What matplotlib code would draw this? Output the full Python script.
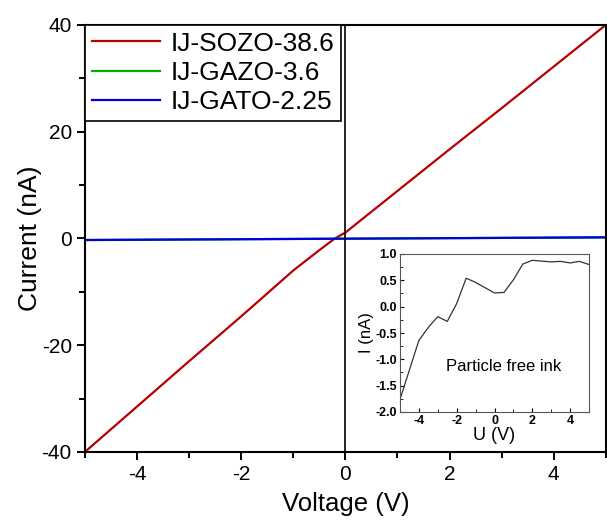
import matplotlib
matplotlib.use("Agg")
import matplotlib.pyplot as plt
from matplotlib.ticker import MultipleLocator

plt.rcParams["font.family"] = ["Liberation Sans", "DejaVu Sans"]
plt.rcParams["axes.unicode_minus"] = False

# main I-V curves
v_sozo = [-5, -4, -3, -2, -1.65, -1, -0.5, -0.2, 0, 1, 2, 3, 4, 5]
i_sozo = [-40, -31.5, -23, -14.6, -11.6, -6, -2.2, 0, 1.1, 8.9, 16.7, 24.4, 32.2, 40]
v_gazo = [-5, 0, 5]
i_gazo = [-0.3, -0.05, 0.2]
v_gato = [-5, 0, 5]
i_gato = [-0.3, -0.05, 0.2]

# inset: particle free ink
u_ink = [-5, -4, -3.45, -3, -2.5, -2, -1.5, -1.05, 0, 0.5, 1, 1.5, 2, 3, 3.5, 4, 4.5, 5]
i_ink = [-1.76, -0.64, -0.37, -0.19, -0.28, 0.06, 0.54, 0.47, 0.26, 0.27, 0.51, 0.81, 0.88, 0.85, 0.86, 0.83, 0.86, 0.80]

fig = plt.figure(figsize=(6.07, 5.2), dpi=100)
ax = fig.add_axes([0.140, 0.131, 0.858, 0.821])

ax.plot(v_sozo, i_sozo, color="#b80000", lw=1.6, label="IJ-SOZO-38.6")
ax.plot(v_gazo, i_gazo, color="#00b000", lw=1.6, label="IJ-GAZO-3.6")
ax.plot(v_gato, i_gato, color="#0000e0", lw=1.6, label="IJ-GATO-2.25")
ax.axvline(0, color="black", lw=1.2)

ax.set_xlim(-5, 5)
ax.set_ylim(-40, 40)
ax.xaxis.set_major_locator(MultipleLocator(2))
ax.xaxis.set_minor_locator(MultipleLocator(1))
ax.yaxis.set_major_locator(MultipleLocator(20))
ax.yaxis.set_minor_locator(MultipleLocator(10))
ax.tick_params(which="major", direction="out", length=6, width=1.4, labelsize=15)
ax.tick_params(which="minor", direction="out", length=4, width=1.4)
for s in ax.spines.values():
    s.set_linewidth(1.5)
ax.set_xlabel("Voltage (V)", fontsize=18.5, labelpad=6)
ax.set_ylabel("Current (nA)", fontsize=19, labelpad=0)

leg = ax.legend(loc="upper left", fontsize=19, frameon=True, fancybox=False,
                borderaxespad=0, handlelength=2.6, handletextpad=0.4,
                labelspacing=0.2, borderpad=0.25)
leg.get_frame().set_edgecolor("black")
leg.get_frame().set_linewidth(1.2)
leg.get_frame().set_alpha(1)

# inset
ins = fig.add_axes([400 / 607, 1 - 412 / 520, 189 / 607, 158 / 520])
ins.plot(u_ink, i_ink, color="#333333", lw=0.9)
ins.set_xlim(-5, 5)
ins.set_ylim(-2, 1)
ins.xaxis.set_major_locator(MultipleLocator(2))
ins.xaxis.set_minor_locator(MultipleLocator(1))
ins.yaxis.set_major_locator(MultipleLocator(0.5))
ins.yaxis.set_minor_locator(MultipleLocator(0.25))
ins.tick_params(which="major", direction="in", length=3, labelsize=9, pad=2)
ins.tick_params(which="minor", direction="in", length=2)
for lbl in ins.get_xticklabels() + ins.get_yticklabels():
    lbl.set_fontweight("bold")
for s in ins.spines.values():
    s.set_color("#555555")
    s.set_linewidth(0.8)
ins.set_xlabel("U (V)", fontsize=13, labelpad=0)
ins.set_ylabel("I (nA)", fontsize=12, labelpad=1)
ins.text(0.55, 0.29, "Particle free ink", transform=ins.transAxes,
         ha="center", va="center", fontsize=12)

fig.savefig("out.png", dpi=100)
